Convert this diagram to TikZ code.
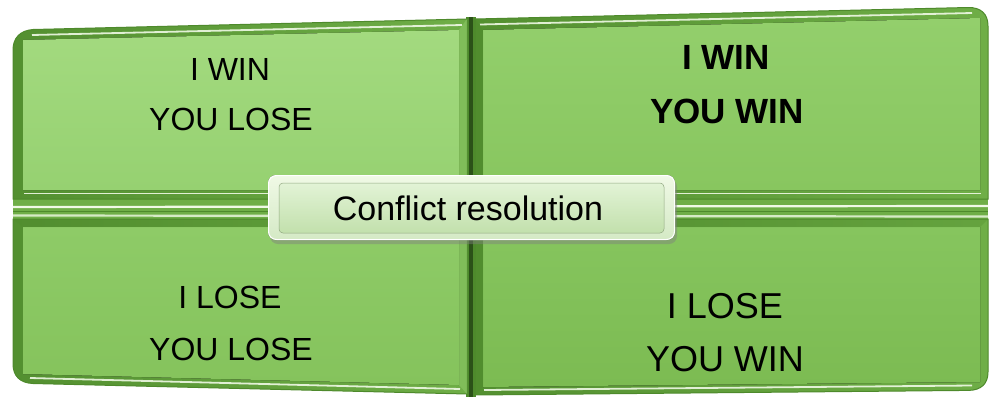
\documentclass[tikz,border=0pt]{standalone}
\usepackage{fontspec}
\setmainfont{Liberation Sans}
\begin{document}
\definecolor{rimdark}{HTML}{4E8A2C}
\definecolor{rimmid}{HTML}{6FAE47}
\definecolor{rimlight}{HTML}{8CC765}
\definecolor{divdark}{HTML}{2B5118}
\definecolor{hilite}{HTML}{F0F9E6}
\definecolor{faceA1}{HTML}{A3DA7F}
\definecolor{faceA2}{HTML}{96D171}
\definecolor{faceB1}{HTML}{93CF6C}
\definecolor{faceB2}{HTML}{88C65F}
\definecolor{faceC1}{HTML}{8ECB67}
\definecolor{faceC2}{HTML}{85C35C}
\definecolor{faceD1}{HTML}{86C55E}
\definecolor{faceD2}{HTML}{7CBB52}
\definecolor{boxbot}{HTML}{C2E0AC}
\definecolor{boxtop}{HTML}{E2F3D6}
\begin{tikzpicture}[x=1pt,y=-1pt,
  rim/.style={left color=rimdark!85!rimmid,right color=rimmid,draw=rimdark,line width=1pt},
  shine/.style={draw=hilite,line width=1.8pt,opacity=0.9},
  plain/.style={font=\fontsize{32}{38}\selectfont,anchor=base,text=black,inner sep=0pt},
  big/.style={font=\fontsize{36}{42}\selectfont,anchor=base,text=black,inner sep=0pt},
  heavy/.style={font=\fontsize{35}{42}\selectfont\bfseries,anchor=base,text=black,inner sep=0pt}]
\useasboundingbox (0,0) rectangle (990,405);

% horizontal divider band behind the panels
\fill[rimmid] (13,198) rectangle (988,220);
\draw[hilite,line width=2.2pt] (13,207) -- (988,206);
\draw[hilite!80!rimmid,line width=2.2pt] (13,215.5) -- (988,216.5);
\draw[rimdark,line width=1pt] (13,211) -- (988,211);

% backing strip of the vertical divider
\fill[rimdark] (466,17) rectangle (476,397);

% frames of the four panels, rounded at the outer corner only
\path[rim] (467,199) -- (13,199) -- (13,50) .. controls (13,38) and (20,30.5) .. (33,29.5) -- (467,19) -- cycle;
\path[rim] (475,199) -- (475,19) -- (968,7.5) .. controls (981,7.2) and (988,14) .. (988,26) -- (988,199) -- cycle;
\path[rim] (467,219) -- (13,219) -- (13,364) .. controls (13,376) and (20,383) .. (33,383.5) -- (467,394) -- cycle;
\path[rim] (475,219) -- (988,219) -- (988,372) .. controls (988,384) and (981,390) .. (969,390.4) -- (475,395) -- cycle;

% outer top highlights
\draw[shine] (32,35) -- (462,25);
\draw[shine] (480,24.5) -- (972,13);

% faces
\fill[top color=faceA1,bottom color=faceA2] (23,40) -- (459,30) -- (459,190) -- (23,190) -- cycle;
\fill[top color=faceB1,bottom color=faceB2] (483,30) -- (980,18) -- (980,190) -- (483,190) -- cycle;
\fill[top color=faceC1,bottom color=faceC2] (23,227) -- (459,227) -- (459,385) -- (23,374) -- cycle;
\fill[top color=faceD1,bottom color=faceD2] (483,227) -- (980,227) -- (980,382) -- (483,387) -- cycle;

% bevel shading on the inner sides of the frames
\fill[rimlight,opacity=0.6] (459,30) -- (467,19) -- (467,199) -- (459,190) -- cycle;
\fill[rimlight,opacity=0.6] (459,227) -- (467,219) -- (467,394) -- (459,385) -- cycle;
\fill[rimdark,opacity=0.35] (483,30) -- (475,19) -- (475,199) -- (483,190) -- cycle;
\fill[rimdark,opacity=0.35] (483,227) -- (475,219) -- (475,395) -- (483,387) -- cycle;
\fill[rimdark,opacity=0.3] (23,227) -- (459,227) -- (467,219) -- (13,219) -- cycle;
\fill[rimdark,opacity=0.3] (483,227) -- (980,227) -- (988,219) -- (475,219) -- cycle;

% lower highlights
\draw[shine] (24,193.5) -- (459,193.5);
\draw[shine] (484,193.5) -- (981,193.5);
\draw[shine] (30,378) -- (460,389);
\draw[shine] (484,390) -- (972,385.5);

% vertical divider
\draw[divdark,line width=4pt] (470.5,17) -- (470.5,397);

% captions of the four panels
\node[plain] (tl1) at (230,80) {I WIN};
\node[plain] (tl2) at (231,130) {YOU LOSE};
\node[heavy] (tr1) at (726,69) {I WIN};
\node[heavy] (tr2) at (727,123) {YOU WIN};
\node[plain] (bl1) at (230,308) {I LOSE};
\node[plain] (bl2) at (231,360) {YOU LOSE};
\node[big] (br1) at (725,318) {I LOSE};
\node[big] (br2) at (725,371) {YOU WIN};

% central label plate
\fill[black!50,opacity=0.45,rounded corners=8pt] (270,179) rectangle (677,244);
\fill[rounded corners=8pt,top color=hilite,bottom color=boxbot!70!white] (268,175) rectangle (675,240);
\draw[white,line width=1pt,rounded corners=8pt] (268.5,175.5) rectangle (674.5,239.5);
\path[rounded corners=4pt,top color=boxtop,bottom color=boxbot,draw=boxbot!75!black,line width=0.5pt] (279,183) rectangle (664,233);
\node[font=\fontsize{34}{40}\selectfont,anchor=base,inner sep=0pt] (center) at (468,220) {Conflict resolution};
\end{tikzpicture}
\end{document}
